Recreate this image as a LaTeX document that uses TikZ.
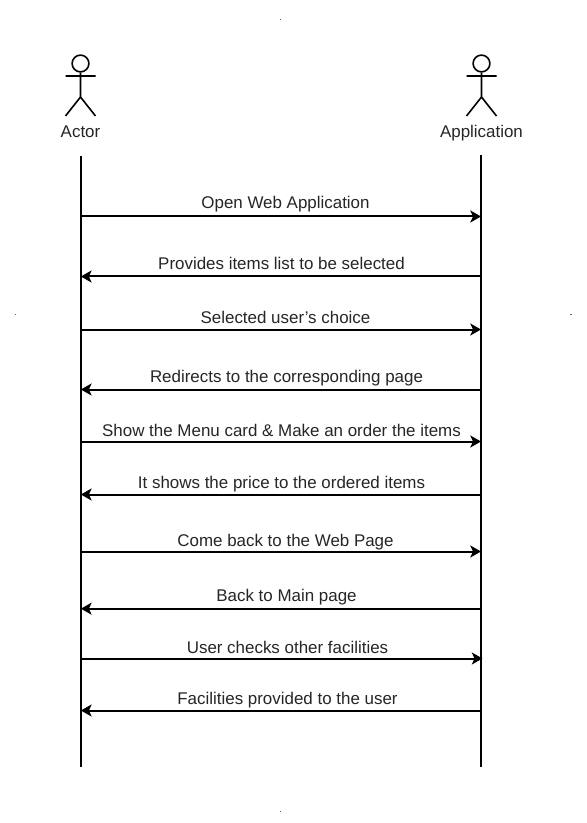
\documentclass[tikz,border=0pt]{standalone}
\usepackage{fontspec}
\setmainfont{Liberation Sans}
\usetikzlibrary{arrows.meta}
\tikzset{
  x=0.75pt,y=-0.75pt,
  lifeline/.style={draw=black,line width=1.5pt},
  figure/.style={draw=black,line width=1.2pt},
  msg/.style={draw=black,line width=1.5pt,-{Stealth[length=8pt,width=9pt,inset=2pt]}},
  msglabel/.style={inner sep=0pt,text=black!85,font=\fontsize{12.7pt}{15pt}\selectfont,anchor=base},
  speck/.style={fill=black!60,draw=none,minimum size=0.9pt,inner sep=0pt}
}
\begin{document}
\begin{tikzpicture}
\useasboundingbox (0,0) rectangle (586,823);
\fill[white] (0,0) rectangle (586,823);
% page specks
\node[speck] (s1) at (280.5,19.5) {};
\node[speck] (s2) at (15.5,314.5) {};
\node[speck] (s3) at (571,314.5) {};
\node[speck] (s4) at (280.5,811.5) {};
% actors
\node[figure,circle,minimum size=12.6pt,inner sep=0pt] (headA) at (80.5,63.5) {};
\node[figure,circle,minimum size=12.6pt,inner sep=0pt] (headB) at (481.5,63.5) {};
\draw[figure] (headA.south) -- (80.5,97) -- (65.5,116) (80.5,97) -- (95.5,116) (65.5,76) -- (95.5,76);
\draw[figure] (headB.south) -- (481.5,97) -- (466.5,116) (481.5,97) -- (496.5,116) (466.5,76) -- (496.5,76);
\node[msglabel] (actor) at (80.5,138) {Actor};
\node[msglabel] (app) at (481.5,138) {Application};
% lifelines
\coordinate (at) at (80.9,156);
\coordinate (ab) at (80.9,767);
\coordinate (bt) at (481,155);
\coordinate (bb) at (481,767);
\draw[lifeline] (at) -- (ab);
\draw[lifeline] (bt) -- (bb);
% messages
\foreach \n/\y in {1/216.5,2/276.5,3/329.5,4/389.5,5/441.5,6/494.5,7/551.5,8/608.7,10/710.5}{
  \coordinate (a\n) at (80.9,\y);
  \coordinate (b\n) at (481,\y);
}
\coordinate (a9) at (82,658.5);
\coordinate (b9) at (482.5,658.5);
\draw[msg] (a1) -- (b1);
\draw[msg] (b2) -- (a2);
\draw[msg] (a3) -- (b3);
\draw[msg] (b4) -- (a4);
\draw[msg] (a5) -- (b5);
\draw[msg] (b6) -- (a6);
\draw[msg] (a7) -- (b7);
\draw[msg] (b8) -- (a8);
\draw[msg] (a9) -- (b9);
\draw[msg] (b10) -- (a10);
\node[msglabel] (m1) at (285.5,209) {Open Web Application};
\node[msglabel] (m2) at (281.5,270) {Provides items list to be selected};
\node[msglabel] (m3) at (285.5,323) {Selected user\symbol{39}s choice};
\node[msglabel] (m4) at (286.5,382) {Redirects to the corresponding page};
\node[msglabel] (m5) at (281.5,436) {Show the Menu card \& Make an order the items};
\node[msglabel] (m6) at (281.5,488) {It shows the price to the ordered items};
\node[msglabel] (m7) at (285.5,546) {Come back to the Web Page};
\node[msglabel] (m8) at (286.5,601) {Back to Main page};
\node[msglabel] (m9) at (287.5,653) {User checks other facilities};
\node[msglabel] (m10) at (287.5,704) {Facilities provided to the user};
\end{tikzpicture}
\end{document}
